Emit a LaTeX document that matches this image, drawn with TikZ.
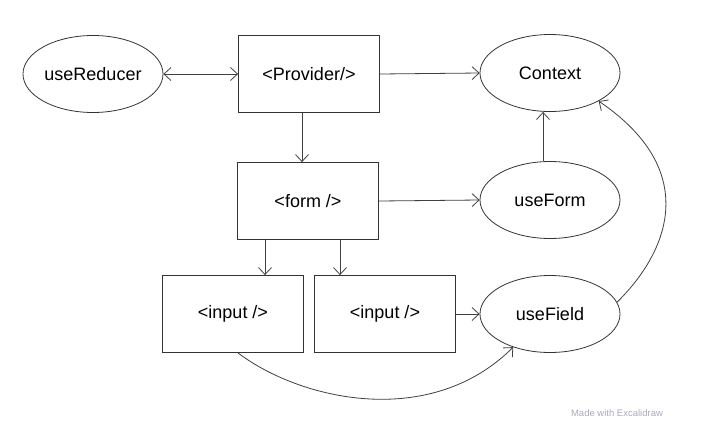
\documentclass[tikz,border=0pt]{standalone}
\usepackage{fontspec}
\setmainfont{Liberation Sans}
\usetikzlibrary{shapes.geometric,arrows.meta}
\definecolor{wmgray}{RGB}{170,170,190}
\begin{document}
\begin{tikzpicture}[x=1pt,y=-1pt,
  box/.style={draw=black!80,line width=0.8pt,minimum width=141pt,minimum height=77pt,inner sep=0pt,font=\fontsize{18}{20}\selectfont},
  oval/.style={ellipse,draw=black!80,line width=0.8pt,minimum width=140pt,minimum height=77pt,inner sep=0pt,font=\fontsize{18}{20}\selectfont},
  conn/.style={draw=black!75,line width=0.8pt,-{Straight Barb[length=7pt,width=13pt]}}]
\useasboundingbox (0,0) rectangle (710,429);
\node[oval] (red) at (93,74) {useReducer};
\node[box] (prov) at (309,74) {<Provider/>};
\node[oval] (ctx) at (550,73) {Context};
\node[box] (form) at (308,201) {<form />};
\node[oval] (uform) at (550,200) {useForm};
\node[box] (in1) at (233,314) {<input />};
\node[box] (in2) at (385,314) {<input />};
\node[oval] (ufield) at (550,314) {useField};
\node[text=wmgray,font=\fontsize{9.5}{10}\selectfont] (wm) at (617,413) {Made with Excalidraw};
\draw[conn,{Straight Barb[length=7pt,width=13pt]}-{Straight Barb[length=7pt,width=13pt]}] (red.east) -- (prov.west);
\draw[conn] (prov.east) -- (ctx.west);
\draw[conn] ([xshift=-7pt]prov.south) -- ([xshift=-6pt]form.north);
\draw[conn] ([xshift=-7pt]uform.north) -- ([xshift=-7pt]ctx.south);
\draw[conn] (form.east) -- (uform.west);
\draw[conn] ([xshift=-43pt]form.south) -- ([xshift=32pt]in1.north);
\draw[conn] ([xshift=32pt]form.south) -- ([xshift=-45pt]in2.north);
\draw[conn] (in2.east) -- (ufield.west);
\draw[conn] ([xshift=5pt]in1.south) .. controls (300,400) and (430,430) .. (ufield.-138);
\draw[conn] (ufield.10) .. controls (670,250) and (700,170) .. (ctx.-30);
\end{tikzpicture}
\end{document}
